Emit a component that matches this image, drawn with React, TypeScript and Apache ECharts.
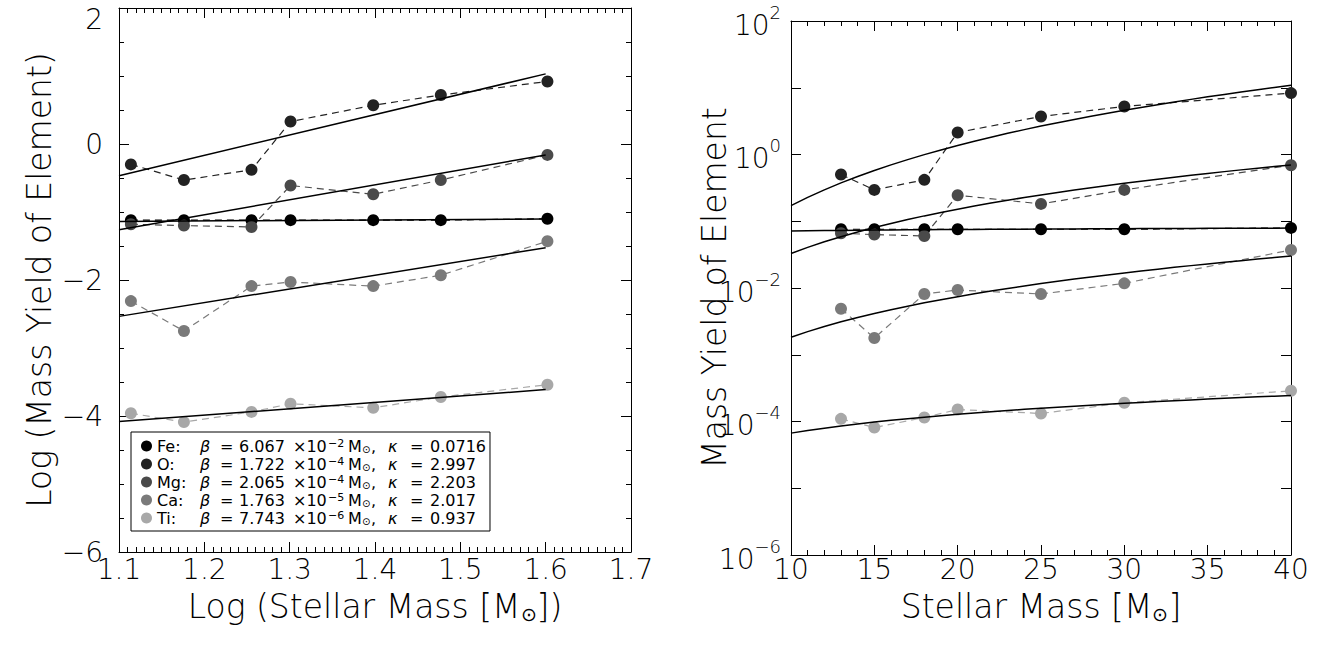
import React, { useEffect, useRef } from "react";
import * as echarts from "echarts";

// ---- Data ----
const elements = ["Fe", "O", "Mg", "Ca", "Ti"];
const colors = ["#000000", "#222222", "#4a4a4a", "#7a7a7a", "#a8a8a8"];
const stellarMass = [13, 15, 18, 20, 25, 30, 40];
const logYieldFe = [-1.12, -1.12, -1.12, -1.12, -1.12, -1.12, -1.1];
const logYieldO = [-0.3, -0.53, -0.38, 0.33, 0.57, 0.72, 0.92];
const logYieldMg = [-1.18, -1.2, -1.22, -0.61, -0.74, -0.53, -0.16];
const logYieldCa = [-2.31, -2.75, -2.09, -2.03, -2.09, -1.93, -1.43];
const logYieldTi = [-3.96, -4.09, -3.94, -3.82, -3.88, -3.72, -3.54];
const logYields = [logYieldFe, logYieldO, logYieldMg, logYieldCa, logYieldTi];

// Power-law fit parameters (yield = beta * M^kappa), from the legend
const betaMant = ["6.067", "1.722", "2.065", "1.763", "7.743"];
const betaExp = [-2, -4, -4, -5, -6];
const kappaStr = ["0.0716", "2.997", "2.203", "2.017", "0.937"];
const fitLogRange = [1.1, 1.6];
const fitMassRange = [10, 40];

const FONT = "DejaVu Sans";
const FW = 200;
const MINUS = "\u2212";

export default function App() {
  const ref = useRef<HTMLDivElement>(null);
  useEffect(() => {
    if (!ref.current) return;
    const chart = echarts.init(ref.current, undefined, { renderer: "svg" });

    const beta = betaMant.map((m, i) => parseFloat(m) * Math.pow(10, betaExp[i]));
    const kappa = kappaStr.map((k) => parseFloat(k));

    const tickStyle = { color: "#000", width: 1 };
    const baseAxis = (extra: any) => ({
      axisLine: { show: true, onZero: false, lineStyle: { color: "#000", width: 1 } },
      axisTick: { show: true, inside: true, length: 10, lineStyle: tickStyle },
      splitLine: { show: false },
      nameMoveOverlap: false,
      ...extra,
    });
    const labelStyle = { fontFamily: FONT, fontSize: 28, fontWeight: FW, color: "#000" };
    const nameStyle = { fontFamily: FONT, fontSize: 33, lineHeight: 33, fontWeight: FW, color: "#000",
      rich: { sub: { fontFamily: FONT, fontSize: 19, fontWeight: FW, verticalAlign: "bottom", lineHeight: 33 } } };

    const leftX = {
      type: "value", min: 1.1, max: 1.7, interval: 0.1,
      minorTick: { show: true, splitNumber: 10, length: 5, lineStyle: tickStyle },
    };
    const leftY = {
      type: "value", min: -6, max: 2, interval: 2,
      minorTick: { show: true, splitNumber: 4, length: 5, lineStyle: tickStyle },
    };
    const rightX = {
      type: "value", min: 10, max: 40, interval: 5,
      minorTick: { show: true, splitNumber: 5, length: 5, lineStyle: tickStyle },
    };
    const rightY = { type: "log", logBase: 10, min: 1e-6, max: 1e2, interval: 1 };

    const xAxis = [
      baseAxis({
        ...leftX, gridIndex: 0, position: "bottom",
        axisLabel: { ...labelStyle, lineHeight: 28, margin: 3, formatter: (v: number) => v.toFixed(1) },
        name: "Log (Stellar Mass [M{sub|\u2299}])", nameLocation: "middle", nameGap: 38,
        nameTextStyle: nameStyle,
      }),
      baseAxis({ ...leftX, gridIndex: 0, position: "top", axisLabel: { show: false } }),
      baseAxis({
        ...rightX, gridIndex: 1, position: "bottom",
        axisLabel: { ...labelStyle, lineHeight: 28, margin: 0 },
        name: "Stellar Mass [M{sub|\u2299}]", nameLocation: "middle", nameGap: 35,
        nameTextStyle: nameStyle,
      }),
      baseAxis({ ...rightX, gridIndex: 1, position: "top", axisLabel: { show: false } }),
    ];
    const yAxis = [
      baseAxis({
        ...leftY, gridIndex: 0, position: "left",
        axisLabel: {
          ...labelStyle, margin: 16,
          formatter: (v: number) => {
            const s = v < 0 ? MINUS + Math.abs(v) : String(v);
            return v === 2 ? `{t|${s}}` : s;
          },
          rich: { t: { ...labelStyle, padding: [22, 0, 0, 0] } },
        },
        name: "Log (Mass Yield of Element)", nameLocation: "middle", nameGap: 63,
        nameTextStyle: nameStyle,
      }),
      baseAxis({ ...leftY, gridIndex: 0, position: "right", axisLabel: { show: false } }),
      baseAxis({
        ...rightY, gridIndex: 1, position: "left",
        axisLabel: {
          ...labelStyle, margin: 10,
          formatter: (v: number) => {
            const e = Math.round(Math.log10(v));
            if (e % 2 !== 0) return "";
            const s = e < 0 ? MINUS + -e : String(e);
            return `{b|10}{s|${s}}`;
          },
          rich: {
            b: { ...labelStyle, lineHeight: 36, verticalAlign: "bottom" },
            s: { ...labelStyle, fontSize: 18, lineHeight: 18, verticalAlign: "top" },
          },
        },
        name: "Mass Yield of Element", nameLocation: "middle", nameGap: 60,
        nameTextStyle: nameStyle,
      }),
      baseAxis({ ...rightY, gridIndex: 1, position: "right", axisLabel: { show: false } }),
    ];

    const series: any[] = [];
    elements.forEach((el, i) => {
      const logs = logYields[i];
      const dashed = { type: [7, 5], width: 1.2, color: colors[i] };
      series.push({
        name: el, type: "line", xAxisIndex: 0, yAxisIndex: 0,
        data: stellarMass.map((m, j) => [Math.log10(m), logs[j]]),
        symbol: "circle", symbolSize: 12, itemStyle: { color: colors[i] },
        lineStyle: dashed, z: 3,
      });
      series.push({
        name: el, type: "line", xAxisIndex: 2, yAxisIndex: 2,
        data: stellarMass.map((m, j) => [m, Math.pow(10, logs[j])]),
        symbol: "circle", symbolSize: 12, itemStyle: { color: colors[i] },
        lineStyle: dashed, z: 3,
      });
      // model fit lines from the legend parameters
      series.push({
        name: el + " fit", type: "line", xAxisIndex: 0, yAxisIndex: 0,
        data: fitLogRange.map((x) => [x, Math.log10(beta[i]) + kappa[i] * x]),
        symbol: "none", lineStyle: { color: "#000", width: 1.5 }, z: 4,
      });
      const masses: number[] = [];
      for (let m = fitMassRange[0]; m <= fitMassRange[1]; m += 1) masses.push(m);
      series.push({
        name: el + " fit", type: "line", xAxisIndex: 2, yAxisIndex: 2,
        data: masses.map((m) => [m, beta[i] * Math.pow(m, kappa[i])]),
        symbol: "none", lineStyle: { color: "#000", width: 1.5 }, z: 4,
      });
    });

    const legendText = (i: number) => {
      const e = betaExp[i];
      return `{n|${elements[i]}:}{g|\u03b2}{q|=}{v|${betaMant[i]}}{x|\u00d710}{sup|${MINUS}${-e}}{m|M}{sub|\u2299}{c|,}{g2|\u03ba}{q2|=}{k|${kappaStr[i]}}`;
    };
    const lf = { fontFamily: FONT, fontSize: 16, color: "#000", lineHeight: 16 };

    chart.setOption({
      animation: false,
      backgroundColor: "#fff",
      grid: [
        { left: 119, top: 8, width: 512, height: 544 },
        { left: 791, top: 21, width: 500, height: 534 },
      ],
      xAxis, yAxis, series,
      legend: {
        data: elements, orient: "vertical", left: 131, top: 432,
        icon: "circle", itemWidth: 11, itemHeight: 11, itemGap: 2,
        backgroundColor: "#fff", borderColor: "#000", borderWidth: 1,
        padding: [6, 4, 5, 10], selectedMode: false, z: 10,
        textStyle: {
          ...lf,
          rich: {
            n: { ...lf, width: 43 },
            g: { ...lf, fontStyle: "italic", width: 20 },
            q: { ...lf, width: 19 },
            v: { ...lf, width: 54 },
            x: { ...lf, width: 35 },
            sup: { ...lf, fontSize: 11, lineHeight: 11, verticalAlign: "top", width: 20 },
            m: { ...lf, width: 14 },
            sub: { ...lf, fontSize: 10, lineHeight: 10, verticalAlign: "bottom", width: 9 },
            c: { ...lf, width: 17 },
            g2: { ...lf, fontStyle: "italic", width: 22 },
            q2: { ...lf, width: 20 },
            k: { ...lf },
          },
        },
        formatter: (name: string) => legendText(elements.indexOf(name)),
      },
    });
    return () => chart.dispose();
  }, []);
  return <div ref={ref} style={{ position: "fixed", left: 0, top: 0, width: 1320, height: 648 }} />;
}
